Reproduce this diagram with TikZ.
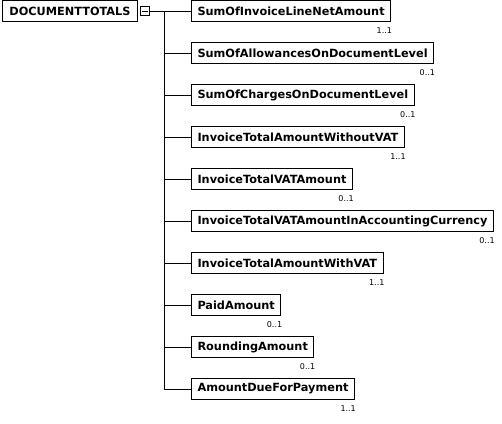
\documentclass[tikz,border=0pt]{standalone}
\usepackage{fontspec}
\setmainfont{DejaVu Sans}
\usetikzlibrary{positioning}
\tikzset{
  x=1pt, y=-1pt, % one unit is one pixel of the schema
  element/.style={draw, line width=1pt, anchor=west, minimum height=21pt,
    inner xsep=6pt, inner ysep=0pt,
    font=\bfseries\fontsize{11.3}{13}\selectfont}, % one schema element
  card/.style={anchor=north east, inner sep=0pt, xshift=1pt, yshift=-5pt,
    font=\fontsize{8}{9}\selectfont}, % cardinality under a box
  branch/.style={line width=1pt},
}

\begin{document}
\begin{tikzpicture}
  \useasboundingbox (0,0) rectangle (502,423);

  \node[element, minimum width=135pt, inner xsep=3pt] (totals) at (2,11) {DOCUMENTTOTALS};
  \node[draw, line width=1pt, minimum size=9pt, inner sep=0pt,
    right=2pt of totals] (collapse) {};
  \draw[branch] ([xshift=-3pt]collapse.center) -- ([xshift=3pt]collapse.center);

  \coordinate (fork) at (164,11);
  \draw[branch] (collapse) -- (fork);

  \foreach \name/\label/\cardtext [count=\i from 0] in {
      netamount/SumOfInvoiceLineNetAmount/1..1,
      allowances/SumOfAllowancesOnDocumentLevel/0..1,
      charges/SumOfChargesOnDocumentLevel/0..1,
      withoutvat/InvoiceTotalAmountWithoutVAT/1..1,
      vatamount/InvoiceTotalVATAmount/0..1,
      vataccounting/InvoiceTotalVATAmountInAccountingCurrency/0..1,
      withvat/InvoiceTotalAmountWithVAT/1..1,
      paid/PaidAmount/0..1,
      rounding/RoundingAmount/0..1,
      duepayment/AmountDueForPayment/1..1} {
    \node[element] (\name) at (191,11+42*\i) {\label};
    \node[card] at (\name.south east) {\cardtext};
    \draw[branch] (fork |- \name.west) -- (\name.west);
  }

  \draw[branch] (fork) -- (fork |- duepayment.west);
\end{tikzpicture}
\end{document}
